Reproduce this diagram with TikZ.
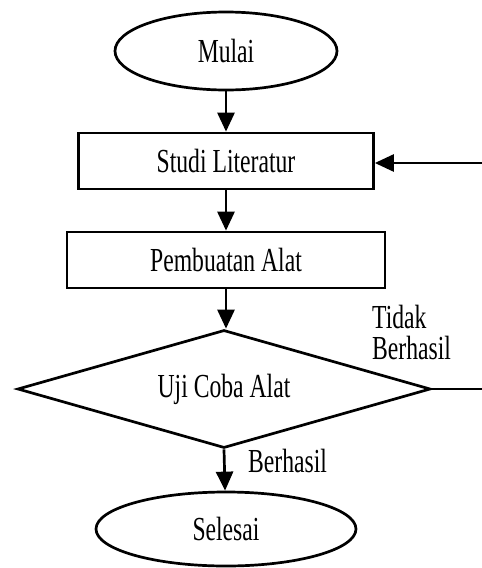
\documentclass[tikz,border=0pt]{standalone}
\usepackage{fontspec}
\setmainfont{Liberation Serif}
\usetikzlibrary{shapes.geometric,arrows.meta}
\newcommand{\ftxt}[1]{\scalebox{0.83}[1.18]{\fontsize{28.5}{34}\selectfont #1}}
\tikzset{
  lw/.style={line width=2.7pt},
  termbox/.style={ellipse,draw,lw,inner sep=0pt},
  procbox/.style={rectangle,draw,lw,inner sep=0pt},
  decbox/.style={diamond,draw,lw,inner sep=0pt,aspect=3.5},
  flow/.style={lw,-{Triangle[width=17pt,length=19pt]}},
  lbl/.style={anchor=base west,inner sep=0pt}
}
\begin{document}
\begin{tikzpicture}[x=1pt,y=-1pt]
\useasboundingbox (0,0) rectangle (482,568);
\node[termbox,minimum width=222pt,minimum height=78pt] (mulai) at (226,51) {\ftxt{Mulai}};
\node[procbox,minimum width=295pt,minimum height=56pt] (studi) at (226,161) {\ftxt{Studi Literatur}};
\node[procbox,minimum width=318pt,minimum height=56pt] (buat) at (226,260) {\ftxt{Pembuatan Alat}};
\node[decbox,minimum width=413pt,minimum height=118pt] (uji) at (224,389) {\ftxt{Uji Coba Alat}};
\node[termbox,minimum width=260pt,minimum height=74pt] (selesai) at (226,529) {\ftxt{Selesai}};
\node[lbl] (tidak) at (372,328) {\ftxt{Tidak}};
\node[lbl] (berhasil1) at (372,359) {\ftxt{Berhasil}};
\node[lbl] (berhasil2) at (248,472) {\ftxt{Berhasil}};
\coordinate (loopB) at (490,389);
\coordinate (loopT) at (490,163);
\draw[flow] (mulai) -- (studi);
\draw[flow] (studi) -- (buat);
\draw[flow] (buat) -- (buat|-uji.north);
\draw[flow] (uji.south) -- (selesai);
\draw[flow] (uji.east) -- (loopB) -- (loopT) -- (studi.east|-loopT);
\end{tikzpicture}
\end{document}
